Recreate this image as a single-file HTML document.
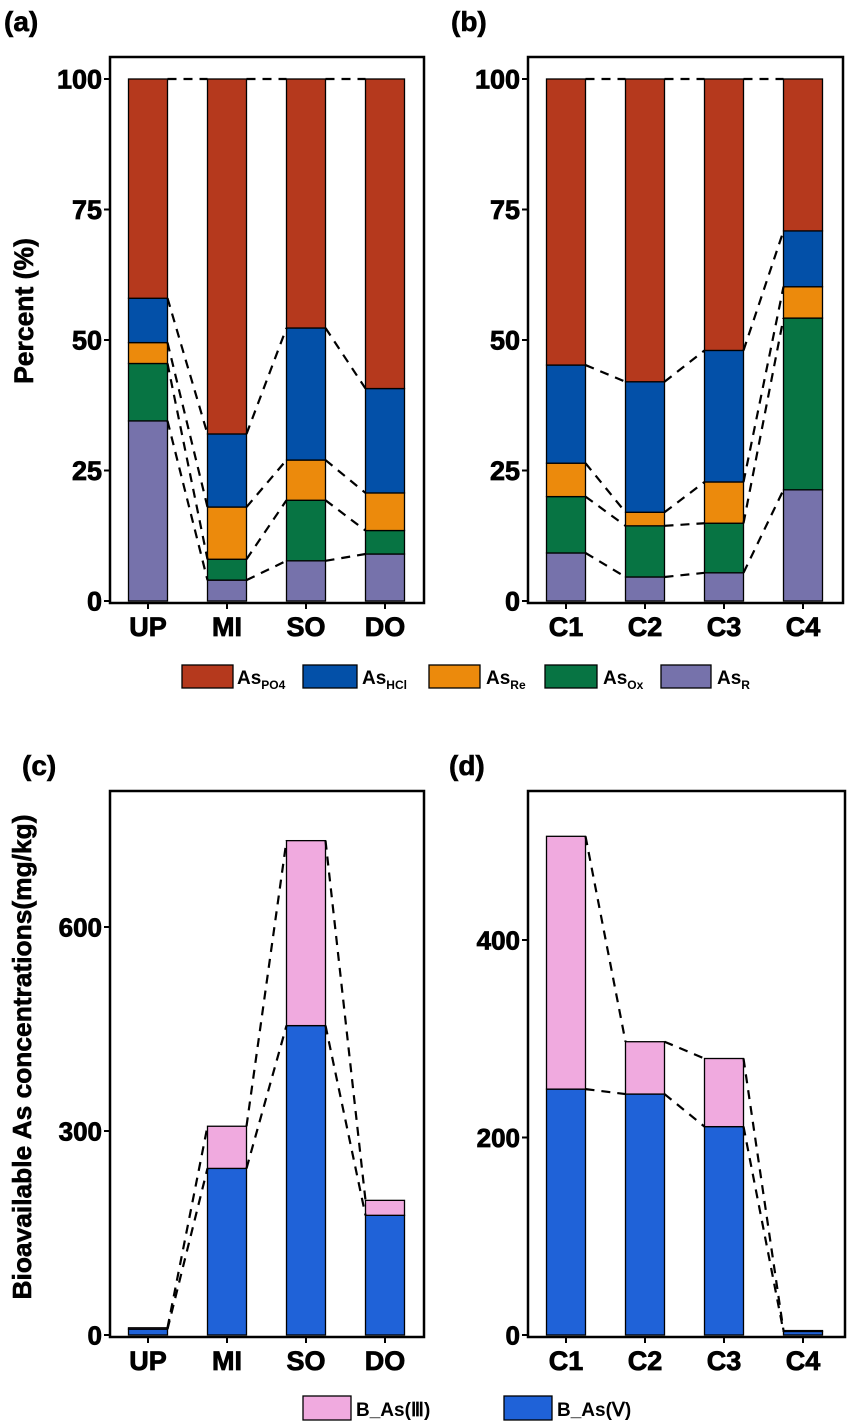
<!DOCTYPE html>
<html><head><meta charset="utf-8"><style>
html,body{margin:0;padding:0;background:#fff;}
svg{display:block;font-family:"Liberation Sans",Arial,sans-serif;font-weight:bold;}
</style></head><body>
<svg id="fig" width="851" height="1426" viewBox="0 0 851 1426" xmlns="http://www.w3.org/2000/svg"></svg>
<script>
// ---- data ----
const catsA = ["UP","MI","SO","DO"];
const catsB = ["C1","C2","C3","C4"];
const fracNames = ["AsR","AsOx","AsRe","AsHCl","AsPO4"];
const fracColors = ["#7672ab","#077443","#ec8a0c","#0350a8","#b5391d"];
// values per category, bottom to top: R, Ox, Re, HCl, PO4 (%)
const aR   = [34.5, 4.0, 7.7, 9.0];
const aOx  = [11.0, 4.0, 11.6, 4.5];
const aRe  = [4.0, 10.0, 7.7, 7.2];
const aHCl = [8.5, 14.0, 25.3, 20.0];
const aPO4 = [42.0, 68.0, 47.7, 59.3];
const bR   = [9.2, 4.6, 5.4, 21.3];
const bOx  = [10.8, 9.8, 9.5, 32.9];
const bRe  = [6.4, 2.6, 7.9, 6.0];
const bHCl = [18.8, 25.0, 25.2, 10.7];
const bPO4 = [54.8, 58.0, 52.0, 29.1];
const pctTicks = [0,25,50,75,100];
// bioavailable
const cV   = [8.6, 245, 455, 176];
const cIII = [2.0, 62, 272, 22];
const dV   = [249, 244, 211, 3.6];
const dIII = [256, 53, 69, 0.9];
const cTicks = [0,300,600];
const dTicks = [0,200,400];

const svg = document.getElementById('fig');
const NS = "http://www.w3.org/2000/svg";
function mk(tag, attrs, parent){
  const e = document.createElementNS(NS, tag);
  for (const k in attrs) e.setAttribute(k, attrs[k]);
  (parent||svg).appendChild(e);
  return e;
}
function txt(x,y,s,size,anchor,parent){
  const t = mk('text',{x:x,y:y,'font-size':size,'text-anchor':anchor||'middle',fill:'#000',stroke:'#000','stroke-width':0.8},parent);
  t.textContent = s;
  return t;
}

function panel(opt){
  const g = mk('g',{});
  
  
  const {x0,x1,yTop,yBot,y0,yMax,vMax,cats,series,colors,ticks} = opt;
  const ys = v => y0 - (v / vMax) * (y0 - yMax);
  const centers = cats.map((c,i)=> x0 + 38 + i*79);
  const bw = 39;
  const tops = cats.map(()=>[]);
  cats.forEach((c,i)=>{
    let cum = 0;
    series.forEach((s,k)=>{
      const v = s[i];
      const r = mk('rect',{x:centers[i]-bw/2, y:ys(cum+v), width:bw, height:Math.max(0,ys(cum)-ys(cum+v)), fill:colors[k], stroke:'#000','stroke-width':1.3},g);
      
      
      cum += v;
      tops[i].push(cum);
    });
  });
  for (let i=0;i<cats.length-1;i++){
    for (let k=0;k<series.length;k++){
      const l = mk('line',{x1:centers[i]+bw/2, y1:ys(tops[i][k]), x2:centers[i+1]-bw/2, y2:ys(tops[i+1][k]), stroke:'#000','stroke-width':2.2,'stroke-dasharray':'9,7'},g);
      
      
    }
  }
  const f = mk('rect',{x:x0,y:yTop,width:x1-x0,height:yBot-yTop,fill:'none',stroke:'#000','stroke-width':2.5},g);
  
  
  ticks.forEach(t=>{
    mk('line',{x1:x0-6,y1:ys(t),x2:x0,y2:ys(t),stroke:'#000','stroke-width':2},g);
    const tl = txt(x0-8, ys(t)+opt.tickFs*0.36, String(t), opt.tickFs, 'end', g);
    
    
  });
  cats.forEach((c,i)=>{
    mk('line',{x1:centers[i],y1:yBot,x2:centers[i],y2:yBot+6,stroke:'#000','stroke-width':2},g);
    const xl = txt(centers[i], yBot+33, c, 27, 'middle', g);
    
    
  });
}

panel({name:'panel-a',x0:110,x1:424,yTop:57,yBot:603,y0:601,yMax:79,vMax:100,cats:catsA,
  series:[aR,aOx,aRe,aHCl,aPO4],colors:fracColors,snames:fracNames,ticks:pctTicks,tickFs:27});
panel({name:'panel-b',x0:528,x1:843,yTop:57,yBot:603,y0:601,yMax:79,vMax:100,cats:catsB,
  series:[bR,bOx,bRe,bHCl,bPO4],colors:fracColors,snames:fracNames,ticks:pctTicks,tickFs:27});
panel({name:'panel-c',x0:110,x1:424,yTop:791,yBot:1337,y0:1335,yMax:927,vMax:600,cats:catsA,
  series:[cV,cIII],colors:["#1f62d8","#f0aadf"],snames:["BAsV","BAsIII"],ticks:cTicks,tickFs:26});
panel({name:'panel-d',x0:528,x1:845,yTop:791,yBot:1337,y0:1335,yMax:940,vMax:400,cats:catsB,
  series:[dV,dIII],colors:["#1f62d8","#f0aadf"],snames:["BAsV","BAsIII"],ticks:dTicks,tickFs:26});
</script>
<svg style="position:absolute;left:0;top:0" width="851" height="1426" xmlns="http://www.w3.org/2000/svg">
  <g font-family="Liberation Sans, Arial, sans-serif" font-weight="bold" fill="#000" stroke="#000" stroke-width="0.6">
    <text x="4" y="31" font-size="28">(a)</text>
    <text x="451" y="31" font-size="28">(b)</text>
    <text x="22" y="775" font-size="28">(c)</text>
    <text x="449" y="775" font-size="28">(d)</text>
    <text transform="translate(33,311) rotate(-90)" font-size="26.5" text-anchor="middle">Percent (%)</text>
    <text transform="translate(31,1057) rotate(-90)" font-size="26" text-anchor="middle" textLength="485" lengthAdjust="spacingAndGlyphs">Bioavailable As concentrations(mg/kg)</text>
  </g>
  <g font-family="Liberation Sans, Arial, sans-serif" font-weight="bold">
    <rect x="182" y="665" width="51" height="23" fill="#b5391d" stroke="#000" stroke-width="1.3"/>
    <text x="237" y="684" font-size="19">As<tspan font-size="12" dy="5">PO4</tspan></text>
    <rect x="303" y="665" width="54" height="23" fill="#0350a8" stroke="#000" stroke-width="1.3"/>
    <text x="362" y="684" font-size="19">As<tspan font-size="12" dy="5">HCl</tspan></text>
    <rect x="429" y="665" width="51" height="23" fill="#ec8a0c" stroke="#000" stroke-width="1.3"/>
    <text x="486" y="684" font-size="19">As<tspan font-size="12" dy="5">Re</tspan></text>
    <rect x="545" y="665" width="52" height="23" fill="#077443" stroke="#000" stroke-width="1.3"/>
    <text x="603" y="684" font-size="19">As<tspan font-size="12" dy="5">Ox</tspan></text>
    <rect x="661" y="665" width="50" height="23" fill="#7672ab" stroke="#000" stroke-width="1.3"/>
    <text x="717" y="684" font-size="19">As<tspan font-size="12" dy="5">R</tspan></text>
  </g>
  <g font-family="Liberation Sans, Arial, sans-serif" font-weight="bold">
    <rect x="303" y="1396" width="48" height="24" fill="#f0aadf" stroke="#000" stroke-width="1.3"/>
    <text x="356" y="1416" font-size="19">B_As(Ⅲ)</text>
    <rect x="504" y="1396" width="48" height="24" fill="#1f62d8" stroke="#000" stroke-width="1.3"/>
    <text x="557" y="1416" font-size="19">B_As(Ⅴ)</text>
  </g>
</svg>
</body></html>
